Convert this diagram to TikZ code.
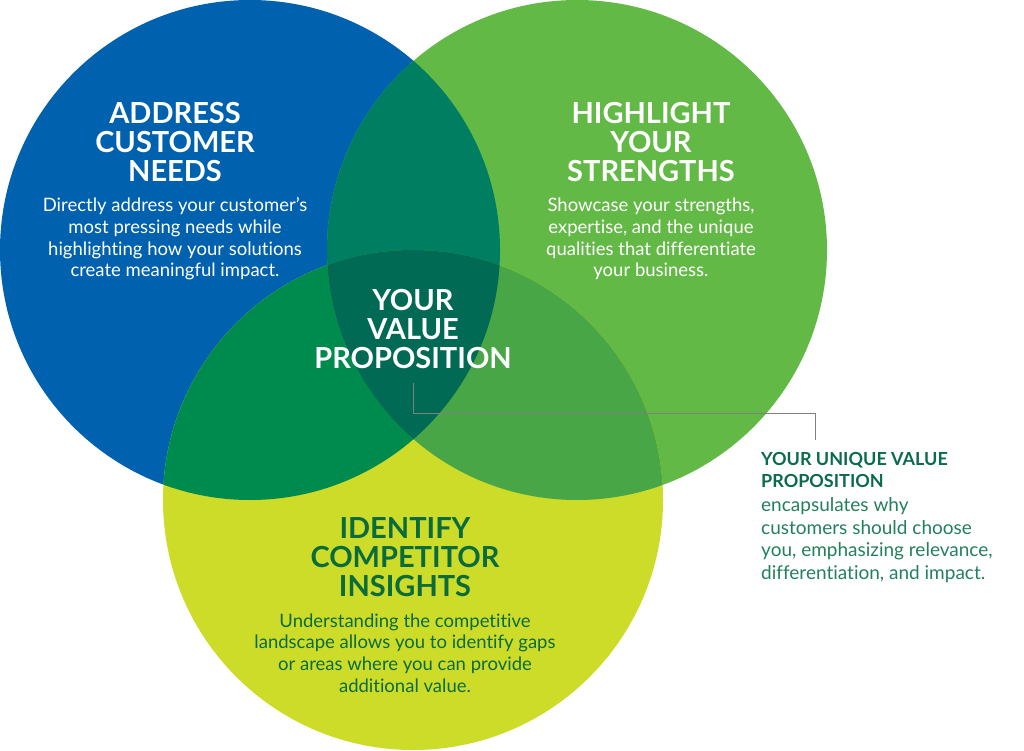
\documentclass[tikz,border=0pt]{standalone}
\usepackage{fontspec}
\setmainfont{Lato}[Ligatures=NoCommon]
\usetikzlibrary{positioning}
\definecolor{NeedsBlue}{HTML}{0061AE}
\definecolor{StrengthGreen}{HTML}{63B946}
\definecolor{InsightLime}{HTML}{CDDC29}
\definecolor{BlueGreen}{HTML}{007E61}
\definecolor{BlueLime}{HTML}{008B4E}
\definecolor{GreenLime}{HTML}{48A647}
\definecolor{CoreTeal}{HTML}{006A54}
\definecolor{InkGreen}{HTML}{0A6B3C}
\definecolor{CalloutInk}{HTML}{0B6A4F}
\definecolor{CalloutText}{HTML}{23805C}
\definecolor{LeaderGrey}{HTML}{808080}
\newcommand{\HeadFont}{\bfseries\fontsize{29pt}{29pt}\selectfont}
\newcommand{\BlurbFont}{\fontsize{18.5pt}{21.6pt}\selectfont}

\begin{document}
\begin{tikzpicture}[x=1pt, y=-1pt,
  head/.style={font=\HeadFont, align=center, inner sep=0pt},
  blurb/.style={font=\BlurbFont, align=center, inner sep=0pt},
  leader/.style={draw=LeaderGrey, line width=0.9pt}]
  \useasboundingbox (0,0) rectangle (1024,751);
  % three circles
  \fill[NeedsBlue] (250,250) circle[radius=250pt];
  \fill[StrengthGreen] (577,250) circle[radius=250pt];
  \fill[InsightLime] (413,500) circle[radius=250pt];
  % overlaps
  \begin{scope}
    \clip (250,250) circle[radius=250pt];
    \fill[BlueGreen] (577,250) circle[radius=250pt];
    \fill[BlueLime] (413,500) circle[radius=250pt];
  \end{scope}
  \begin{scope}
    \clip (577,250) circle[radius=250pt];
    \fill[GreenLime] (413,500) circle[radius=250pt];
    \clip (250,250) circle[radius=250pt];
    \fill[CoreTeal] (413,500) circle[radius=250pt];
  \end{scope}
  % texts in the circles
  \node[head, text=white] (needs) at (175,142) {ADDRESS\\CUSTOMER\\NEEDS};
  \node[blurb, text=white] (needstext) at (175,239)
    {Directly address your customer’s\\most pressing needs while\\highlighting how your solutions\\create meaningful impact.};
  \node[head, text=white] (strengths) at (651,142) {HIGHLIGHT\\YOUR\\STRENGTHS};
  \node[blurb, text=white] (strengthstext) at (651,239)
    {Showcase your strengths,\\expertise, and the unique\\qualities that differentiate\\your business.};
  \node[head, text=InkGreen] (insights) at (405,557) {IDENTIFY\\COMPETITOR\\INSIGHTS};
  \node[blurb, text=InkGreen] (insightstext) at (405,653)
    {Understanding the competitive\\landscape allows you to identify gaps\\or areas where you can provide\\additional value.};
  \node[head, text=white] (vp) at (413,329) {YOUR\\VALUE\\PROPOSITION};
  % callout
  \node[font=\bfseries\fontsize{18pt}{22pt}\selectfont, text=CalloutInk, align=left,
    anchor=north west, inner sep=0pt] (uvp) at (761,452) {YOUR UNIQUE VALUE\\PROPOSITION};
  \node[font=\fontsize{19pt}{22.5pt}\selectfont, text=CalloutText, align=left,
    inner sep=0pt, below=10pt of uvp.south west, anchor=north west] (uvptext)
    {encapsulates why\\customers should choose\\you, emphasizing relevance,\\differentiation, and impact.};
  \coordinate (tip) at (413,383);
  \coordinate (drop) at (815,440);
  \draw[leader] (tip) -- ++(0,30) -| (drop);
\end{tikzpicture}
\end{document}
